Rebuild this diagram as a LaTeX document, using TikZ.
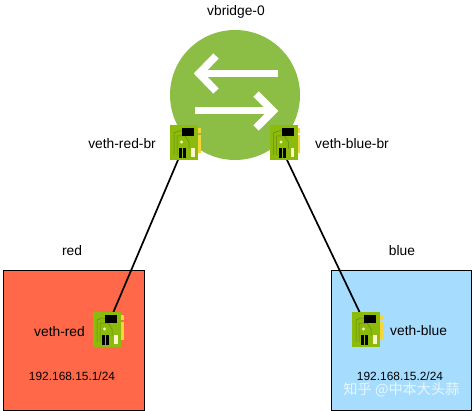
\documentclass[tikz,border=0pt]{standalone}
\usepackage{fontspec}
\setmainfont{Liberation Sans}
\newfontfamily\cjkfont{Noto Sans CJK SC}
\definecolor{hubgreen}{HTML}{8CBD44}
\definecolor{chipgreen}{HTML}{8DBB0C}
\definecolor{chipdark}{HTML}{5F8A10}
\definecolor{chipyellow}{HTML}{F5D63A}
\definecolor{redbox}{HTML}{FF6849}
\definecolor{bluebox}{HTML}{A6DDFF}
\tikzset{
  x=1pt,y=-1pt,
  lbl/.style={font=\fontsize{13.8}{15}\selectfont,text=black,inner sep=0pt},
  smalllbl/.style={font=\fontsize{11.9}{13}\selectfont,text=black,inner sep=0pt},
  wire/.style={line width=1.7pt,black},
  hostbox/.style={draw=black,line width=0.8pt},
  arrowline/.style={white,line width=7.5pt,line join=miter},
  chip/.pic={
    % local frame: 28 wide, 35 tall, origin at top-left
    \fill[chipyellow] (27,3) rectangle (30.5,8);
    \fill[chipyellow] (27,10) rectangle (30.5,28);
    \fill[chipgreen] (0,0) rectangle (28,35);
    \draw[chipdark,line width=0.5pt] (4,30) -- (4,8) -- (9,6) -- (12,6);
    \draw[chipdark,line width=0.5pt] (7,30) -- (7,11) -- (15,11) -- (19,17) -- (19,24);
    \fill[black] (12,3) rectangle (24,11);
    \fill[black] (9,23) rectangle (12,33);
    \fill[black] (13,23) rectangle (16,33);
    \fill[white!75!chipyellow] (21,23) rectangle (24.5,32);
    \fill[white!70!chipyellow] (11.5,17) circle (1.7);
  }
}
\begin{document}
\begin{tikzpicture}
\useasboundingbox (0,0) rectangle (473,411);
\fill[white] (0,0) rectangle (473,411);

% boxes
\node[hostbox,fill=redbox,minimum width=141pt,minimum height=140pt,inner sep=0pt,anchor=north west] (redhost) at (2.5,270) {};
\node[hostbox,fill=bluebox,minimum width=140pt,minimum height=140pt,inner sep=0pt,anchor=north west] (bluehost) at (331,270) {};

% hub
\node[circle,fill=hubgreen,minimum size=130pt,inner sep=0pt] (hub) at (235,95) {};
\draw[arrowline] (278,73.5) -- (203,73.5);
\draw[arrowline] (216,56) -- (199,73.5) -- (216,91);
\draw[arrowline] (195,110.5) -- (270,110.5);
\draw[arrowline] (256,94) -- (273,111) -- (256,128);

% interface anchors
\coordinate (chipRB) at (178,160);
\coordinate (chipBB) at (287,160);
\coordinate (chipR) at (113,313);
\coordinate (chipB) at (360,313);

% wires
\draw[wire] (chipRB) -- (chipR);
\draw[wire] (chipBB) -- (chipB);

% chips
\pic at (170,125) {chip};
\pic at (269.5,125) {chip};
\pic at (93,312) {chip};
\pic at (352,312) {chip};

% labels
\node[lbl] (t0) at (236,11.5) {vbridge-0};
\node[lbl,anchor=east] (t1) at (156,144) {veth-red-br};
\node[lbl,anchor=west] (t2) at (315,144) {veth-blue-br};
\node[lbl] (t3) at (72,251) {red};
\node[lbl] (t4) at (402,251) {blue};
\node[lbl,anchor=west] (t5) at (34,332) {veth-red};
\node[lbl,anchor=west] (t6) at (390,331) {veth-blue};
\node[smalllbl] (t7) at (72,376) {192.168.15.1/24};
\node[smalllbl] (t8) at (400,376) {192.168.15.2/24};
\node[font=\cjkfont\fontsize{14.2}{16}\selectfont,text=white,opacity=0.75,inner sep=0pt] (wm) at (401.5,390) {知乎 @中本大头蒜};
\end{tikzpicture}
\end{document}
